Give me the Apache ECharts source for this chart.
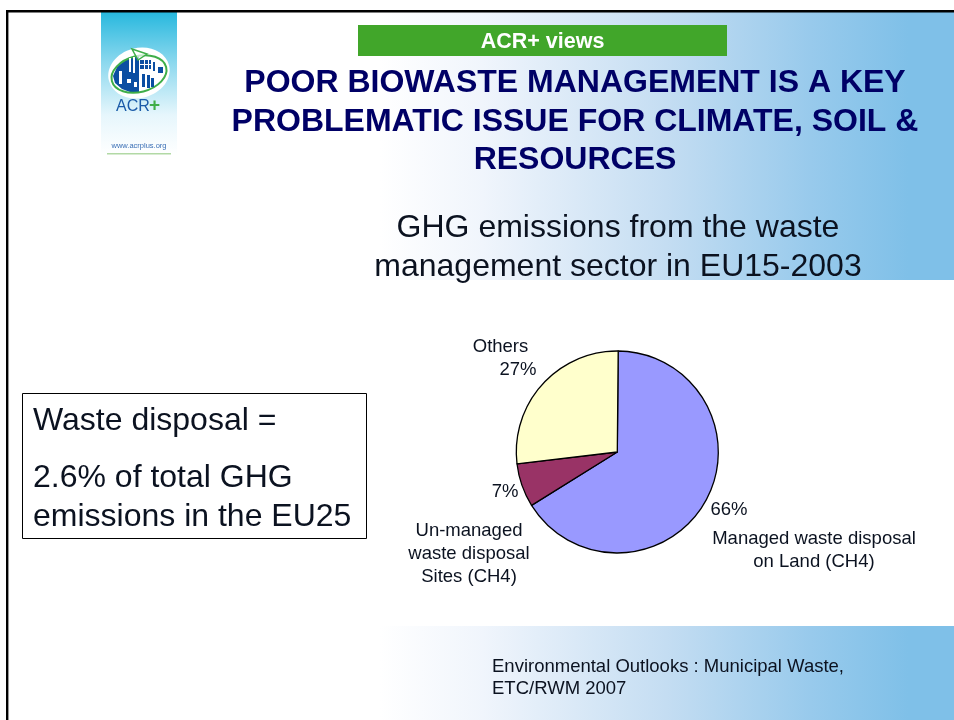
<!DOCTYPE html>
<html><head><meta charset="utf-8">
<style>html,body{margin:0;padding:0;background:#fff}#c{width:954px;height:720px}</style>
<script src="https://cdn.jsdelivr.net/npm/echarts@6/dist/echarts.min.js"></script>
</head><body><div id="c"></div>
<script>
const categories = ['Managed waste disposal on Land (CH4)', 'Un-managed waste disposal Sites (CH4)', 'Others'];
const shares = [66, 7, 27];
const sliceColors = ['#9999ff', '#993366', '#ffffcc'];
const badge = 'ACR+ views';
const headline = ['POOR BIOWASTE MANAGEMENT IS A KEY', 'PROBLEMATIC ISSUE FOR CLIMATE, SOIL &', 'RESOURCES'];
const subtitle = ['GHG emissions from the waste', 'management sector in EU15-2003'];
const sourceLines = ['Environmental Outlooks : Municipal Waste,', 'ETC/RWM 2007'];

const F = '"Liberation Sans", Arial, sans-serif';
const INK = '#0b1220';
const grad = () => new echarts.graphic.LinearGradient(0, 0, 1, 0, [
  {offset: 0, color: '#ffffff'}, {offset: 0.18, color: '#f0f5fc'},
  {offset: 0.5, color: '#c4ddf2'}, {offset: 0.75, color: '#98caec'}, {offset: 0.92, color: '#7fc0e8'}, {offset: 1, color: '#7fc0e8'}]);
const T = (x, y, text, size, o) => ({type: 'text', z: 10, x, y: y + 1.5, style: Object.assign({
  text, font: (o && o.bold ? 'bold ' : '') + size + 'px ' + F, fill: INK,
  textAlign: 'left', textVerticalAlign: 'middle'}, o || {})});
const R = (x, y, w, h, style, z) => ({type: 'rect', z: z || 1, shape: {x, y, width: w, height: h}, style});
const BLUE = '#0b4ea2';

const graphics = [
  R(380, 12, 574, 268, {fill: grad()}),
  R(380, 626, 574, 94, {fill: grad()}),
  R(6, 10, 948, 2.4, {fill: '#000'}, 5),
  R(6, 10, 2.4, 710, {fill: '#000'}, 5),
  // logo panel
  R(101, 12, 76, 143, {fill: new echarts.graphic.LinearGradient(0, 0, 0, 1, [
    {offset: 0, color: '#27b8de'}, {offset: 0.35, color: '#8bd8ee'}, {offset: 0.72, color: '#e6f6fc'}, {offset: 1, color: '#ffffff'}])}, 2),
  {type: 'ellipse', z: 3, shape: {cx: 139, cy: 73, rx: 31, ry: 25}, rotation: 0.25, originX: 139, originY: 73, style: {fill: '#fff'}},
  {type: 'polygon', z: 4, shape: {points: [[122, 89], [115, 83], [113, 76], [117, 67], [125, 60], [133, 57], [139, 56], [139, 92], [130, 92]]}, style: {fill: BLUE}},
  {type: 'ellipse', z: 5, shape: {cx: 139, cy: 74, rx: 28, ry: 18}, rotation: 0.25, originX: 139, originY: 74, style: {fill: 'transparent', stroke: '#3fae49', lineWidth: 2}},
  R(140, 60, 11, 9, {fill: BLUE}, 5),
  R(144, 60, 1, 9, {fill: '#fff'}, 6), R(148, 60, 1, 9, {fill: '#fff'}, 6), R(140, 64, 11, 1, {fill: '#fff'}, 6),
  R(158, 67, 5, 6, {fill: BLUE}, 5), R(153, 62, 2, 9, {fill: BLUE}, 5),
  R(142, 74, 3, 13, {fill: BLUE}, 5), R(147, 75, 3, 13, {fill: BLUE}, 5), R(151, 78, 3, 9, {fill: BLUE}, 5),
  R(119, 71, 3, 13, {fill: '#fff'}, 5), R(129, 58, 2, 14, {fill: '#fff'}, 5), R(133, 57, 2, 16, {fill: '#fff'}, 5),
  R(127, 79, 4, 4, {fill: '#fff'}, 5), R(134, 82, 3, 5, {fill: '#fff'}, 5),
  {type: 'polygon', z: 6, shape: {points: [[132, 49], [147, 54], [138, 60]]}, style: {fill: 'rgba(255,255,255,0.7)', stroke: '#3fae49', lineWidth: 1.5}},
  T(116, 105, 'ACR', 16, {fill: '#1a5aa8'}),
  T(149, 104, '+', 19, {fill: '#3fae49', bold: true}),
  T(139, 144, 'www.acrplus.org', 7.5, {fill: '#3a6fb5', textAlign: 'center', letterSpacing: 1.1}),
  R(107, 153, 64, 1.6, {fill: '#b2d9a5'}, 5),
  // badge and titles
  R(358, 25, 369, 31, {fill: '#41a62a'}, 2),
  T(542.5, 41, badge, 21.5, {bold: true, fill: '#fff', textAlign: 'center'}),
  ...headline.map((s, i) => T(575, 82 + i * 38.5, s, 32, {bold: true, fill: '#000066', textAlign: 'center'})),
  ...subtitle.map((s, i) => T(618, 227 + i * 39, s, 32, {textAlign: 'center'})),
  // note box
  R(22.5, 393.5, 344, 145, {fill: '#fff', stroke: '#000', lineWidth: 1}, 2),
  T(33, 420, 'Waste disposal =', 32),
  T(33, 477, '2.6% of total GHG', 32),
  T(33, 516, 'emissions in the EU25', 32),
  // slice names
  T(500.5, 345, 'Others', 18.5, {textAlign: 'center'}),
  T(469, 529, 'Un-managed', 18.5, {textAlign: 'center'}),
  T(469, 552, 'waste disposal', 18.5, {textAlign: 'center'}),
  T(469, 575, 'Sites (CH4)', 18.5, {textAlign: 'center'}),
  T(814, 537, 'Managed waste disposal', 18.5, {textAlign: 'center'}),
  T(814, 560, 'on Land (CH4)', 18.5, {textAlign: 'center'}),
  ...sourceLines.map((s, i) => T(492, 665 + i * 22, s, 18.5))
];

const labelSpots = [{x: 729, y: 510}, {x: 505, y: 492}, {x: 518, y: 370}];
const chart = echarts.init(document.getElementById('c'), null, {renderer: 'canvas'});
chart.setOption({
  animation: false,
  backgroundColor: '#fff',
  graphic: {elements: graphics},
  series: [{
    type: 'pie', z: 8, center: [617.3, 452], radius: [0, 101], startAngle: 89.5, clockwise: true,
    silent: true, avoidLabelOverlap: false,
    data: categories.map((name, i) => ({name, value: shares[i], itemStyle: {color: sliceColors[i]}})),
    itemStyle: {borderColor: '#000', borderWidth: 1.3},
    label: {show: true, position: 'outside', formatter: '{d}%', fontFamily: F, fontSize: 18.5, color: INK},
    labelLine: {show: false},
    labelLayout: p => Object.assign({align: 'center', verticalAlign: 'middle'}, labelSpots[p.dataIndex])
  }]
});
</script></body></html>
